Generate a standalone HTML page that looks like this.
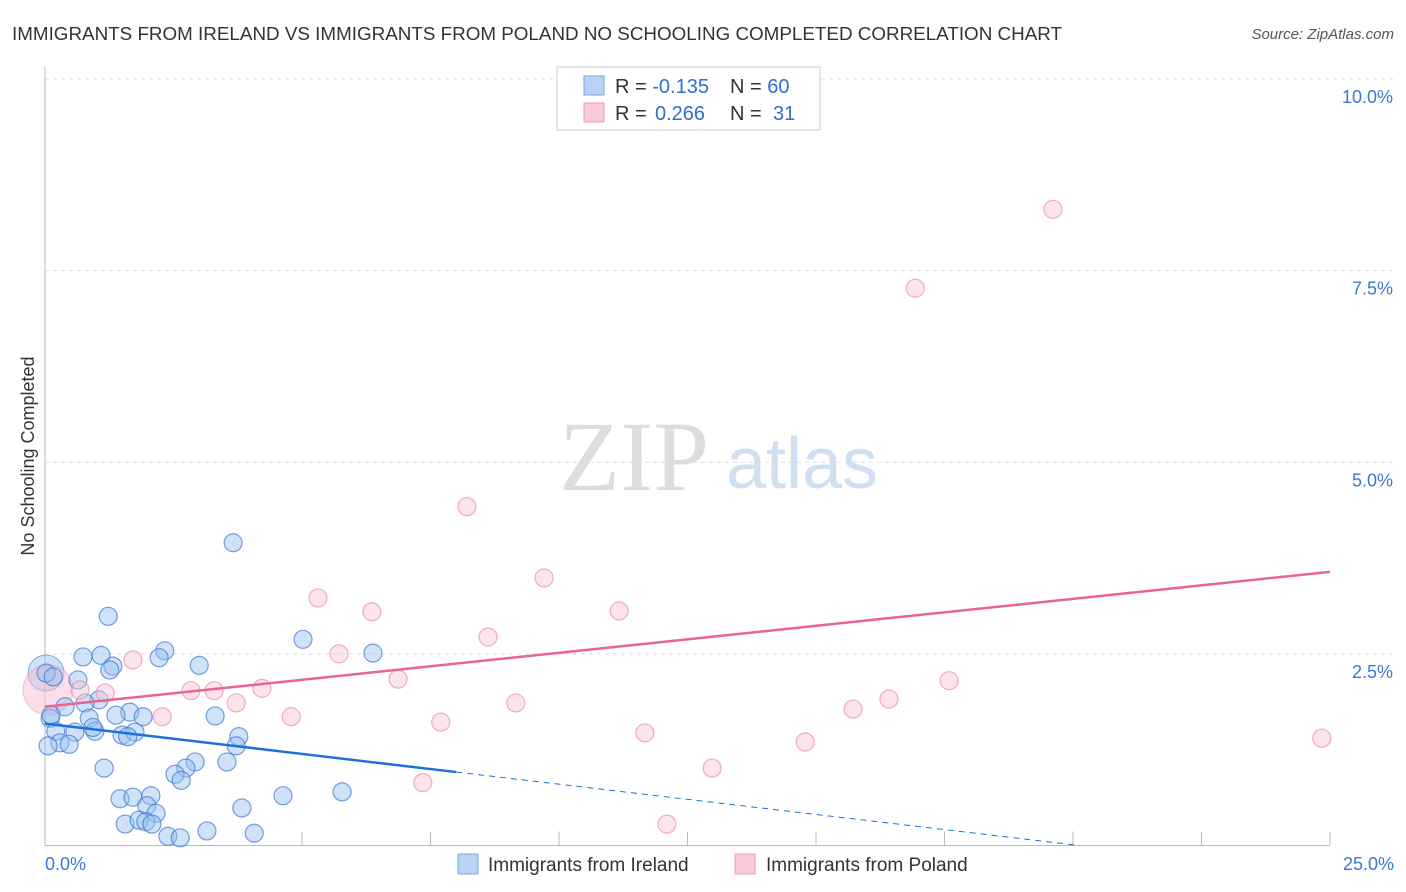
<!DOCTYPE html>
<html><head><meta charset="utf-8"><style>
body{margin:0;background:#fff;font-family:"Liberation Sans",sans-serif;}
</style></head><body>
<svg id="chart" width="1406" height="892" style="display:block">
<text x="12" y="40" font-size="18" fill="#333" textLength="1050" lengthAdjust="spacingAndGlyphs">IMMIGRANTS FROM IRELAND VS IMMIGRANTS FROM POLAND NO SCHOOLING COMPLETED CORRELATION CHART</text>
<text x="1394" y="39" font-size="15" fill="#555" font-style="italic" text-anchor="end">Source: ZipAtlas.com</text>
<text x="634" y="490" font-size="100" fill="#ddd" font-family="Liberation Serif" text-anchor="middle">ZIP</text>
<text x="802" y="488" font-size="72" fill="#cfe0f3" text-anchor="middle">atlas</text>
<text transform="translate(34,456) rotate(-90)" font-size="18" fill="#333" text-anchor="middle">No Schooling Completed</text>
<g id="grid"></g><g id="marks"></g>
<g>
<rect x="557" y="67" width="263" height="63" fill="#fff" stroke="#ccc"/>
<rect x="584" y="76" width="20" height="19" fill="#b8d3f5" stroke="#7aa7e0"/>
<rect x="584" y="103" width="20" height="19" fill="#fbcad8" stroke="#ee9ab3"/>
<text x="615" y="93" font-size="20" fill="#333">R = <tspan fill="#2f6fd0">-0.135</tspan><tspan x="730">N = </tspan><tspan fill="#2f6fd0">60</tspan></text>
<text x="615" y="120" font-size="20" fill="#333">R = <tspan fill="#2f6fd0" x="655">0.266</tspan><tspan x="730">N = </tspan><tspan fill="#2f6fd0" x="773">31</tspan></text>
</g>
<g>
<rect x="458" y="854" width="20" height="20" fill="#b8d3f5" stroke="#7aa7e0"/>
<text x="488" y="871" font-size="19" fill="#333">Immigrants from Ireland</text>
<rect x="735" y="854" width="20" height="20" fill="#fbcad8" stroke="#ee9ab3"/>
<text x="766" y="871" font-size="19" fill="#333">Immigrants from Poland</text>
</g>
</svg>
<script>
const yTicks=[2.5,5,7.5,10];
const yTickLabels=["2.5%","5.0%","7.5%","10.0%"];
const xTicks=[0,2.5,5,7.5,10,12.5,15,17.5,20,22.5,25];
const irelandX=[3.66,1.23,5.02,6.38,2.33,1.09,0.74,2.22,1.32,3.00,1.26,0.02,0.16,0.64,1.05,0.78,0.39,1.65,1.38,1.91,0.86,3.31,0.10,0.21,0.58,0.97,1.50,1.75,1.61,3.77,0.29,0.47,3.72,1.15,2.92,2.74,3.54,2.53,2.65,5.78,4.63,1.46,1.71,2.06,3.83,1.98,2.16,1.56,1.83,1.96,2.08,3.15,4.07,2.39,2.63,0.12,0.93,0.06];
const irelandY=[3.95,2.99,2.69,2.51,2.54,2.48,2.46,2.45,2.34,2.35,2.29,2.25,2.20,2.16,1.90,1.86,1.81,1.74,1.70,1.68,1.66,1.69,1.66,1.49,1.48,1.49,1.44,1.48,1.42,1.42,1.34,1.32,1.30,1.01,1.09,1.01,1.09,0.93,0.85,0.70,0.65,0.61,0.63,0.65,0.49,0.52,0.42,0.28,0.33,0.31,0.28,0.19,0.16,0.12,0.10,1.70,1.54,1.30];
const polandX=[19.61,16.93,8.21,9.71,5.31,6.36,11.17,8.62,5.72,1.71,6.87,17.59,4.22,0.68,2.84,3.29,1.17,3.72,16.42,9.16,15.72,4.79,2.28,7.70,11.67,14.79,24.84,12.98,7.35,12.10];
const polandY=[8.30,7.27,4.42,3.49,3.23,3.05,3.06,2.72,2.50,2.42,2.17,2.15,2.05,2.03,2.02,2.02,1.99,1.86,1.91,1.86,1.78,1.68,1.68,1.61,1.47,1.35,1.40,1.01,0.82,0.28];
const irelandTrend=[1.59,-0.079];
const polandTrend=[1.81,0.0704];
const X0=45,X1=1330,Y0=845.5,Y1=79;
const sx=v=>X0+(v/25)*(X1-X0);
const sy=v=>Y0-(v/10)*(Y0-Y1);
const NS="http://www.w3.org/2000/svg";
function mk(tag,attrs,parent){const e=document.createElementNS(NS,tag);for(const k in attrs)e.setAttribute(k,attrs[k]);parent.appendChild(e);return e;}
const grid=document.getElementById('grid'),marks=document.getElementById('marks');
yTicks.forEach((t,i)=>{
 const l=mk('line',{x1:X0,x2:1394,y1:sy(t),y2:sy(t),stroke:'#ddd','stroke-dasharray':'4,4'},grid);
 
 
 const tx=mk('text',{x:1393,y:sy(t)+24,'font-size':18,fill:'#3a78d4','text-anchor':'end'},grid);
 tx.textContent=yTickLabels[i];
 
 
});
const ax=mk('line',{x1:X0,x2:X0,y1:67,y2:Y0,stroke:'#bbb'},grid);


const bx=mk('line',{x1:X0,x2:X1,y1:Y0,y2:Y0,stroke:'#bbb'},grid);


xTicks.forEach(t=>{
 const l=mk('line',{x1:sx(t),x2:sx(t),y1:Y0-14,y2:Y0,stroke:'#bbb'},grid);
 
 
});
const xl=mk('text',{x:45,y:870,'font-size':18,fill:'#3a78d4'},grid);xl.textContent='0.0%';


const xr=mk('text',{x:1394,y:870,'font-size':18,fill:'#3a78d4','text-anchor':'end'},grid);xr.textContent='25.0%';


const bb=mk('circle',{cx:sx(0.02),cy:sy(2.25),r:18,fill:'rgba(150,190,240,0.45)',stroke:'rgba(60,120,210,0.6)'},marks);


const bp=mk('circle',{cx:sx(0.06),cy:sy(2.03),r:25,fill:'rgba(248,190,210,0.5)',stroke:'rgba(235,140,170,0.5)'},marks);


irelandX.forEach((x,i)=>{
 const c=mk('circle',{cx:sx(x),cy:sy(irelandY[i]),r:9,fill:'rgba(150,190,240,0.45)',stroke:'rgba(60,120,210,0.7)','stroke-width':1.2},marks);
 
 
});
polandX.forEach((x,i)=>{
 const c=mk('circle',{cx:sx(x),cy:sy(polandY[i]),r:9,fill:'rgba(248,195,212,0.45)',stroke:'rgba(235,140,170,0.7)','stroke-width':1.2},marks);
 
 
});
const f=(t,x)=>t[0]+t[1]*x;
const l1=mk('line',{x1:sx(0),y1:sy(f(irelandTrend,0)),x2:sx(8),y2:sy(f(irelandTrend,8)),stroke:'#1f6fdc','stroke-width':2.5},marks);


const xe=-irelandTrend[0]/irelandTrend[1];
const l2=mk('line',{x1:sx(8),y1:sy(f(irelandTrend,8)),x2:sx(xe),y2:sy(0),stroke:'#1f6fdc','stroke-width':1,'stroke-dasharray':'6,5'},marks);


const l3=mk('line',{x1:sx(0),y1:sy(f(polandTrend,0)),x2:sx(25),y2:sy(f(polandTrend,25)),stroke:'#e8668e','stroke-width':2.5},marks);


</script>
</body></html>
